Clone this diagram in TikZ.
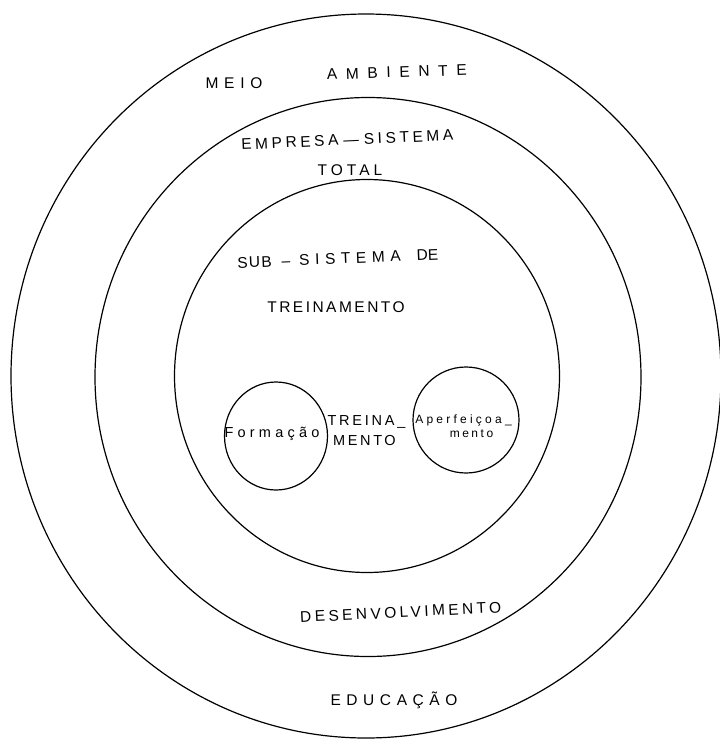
\documentclass[tikz,border=0pt]{standalone}
\usepackage{fontspec}
\setmainfont{Liberation Sans}
\usetikzlibrary{shapes.geometric}
\newcommand\lsp[1]{\addfontfeature{LetterSpace=#1}}
\tikzset{
  ring/.style={draw, line width=1.2pt, ellipse, inner sep=0pt},
  lbl/.style={inner sep=0pt, anchor=base, font=\fontsize{15.5}{15.5}\selectfont},
  lblm/.style={inner sep=0pt, anchor=base, font=\fontsize{14.5}{14.5}\selectfont},
  lbls/.style={inner sep=0pt, anchor=base, font=\fontsize{12}{12}\selectfont},
}
\begin{document}
\begin{tikzpicture}[x=1pt,y=-1pt]
\useasboundingbox (0,0) rectangle (720,740);
% rings
\node[ring, minimum width=710pt, minimum height=724pt] (meioamb) at (366,376) {};
\node[ring, minimum width=546pt, minimum height=559pt] (empresa) at (368,377) {};
\node[ring, minimum width=385pt, minimum height=393pt] (subsis) at (367,376) {};
\node[ring, minimum width=103pt, minimum height=108pt] (formacao) at (276,436) {};
\node[ring, minimum width=106pt, minimum height=106pt] (aperf) at (466,420) {};
% labels
\node[lbl] (tmeio) at (234,88) {\lsp{37}MEIO};
\node[lbl, rotate=2] (tamb) at (397,77.5) {\lsp{56}AMBIENTE};
\node[lbl, rotate=2.6] (temp) at (347.5,145) {\lsp{23}EMPRESA\hspace{5pt}—\hspace{5pt}SISTEMA};
\node[lbl] (ttotal) at (350,175) {\lsp{26}TOTAL};
\node[lbl, rotate=2.3] (tsub) at (338,264) {{\lsp{8}SUB}\hspace{10pt}–\hspace{9pt}{\lsp{36}SISTEMA}\hspace{16pt}DE};
\node[lbl] (ttrein) at (336,312) {\lsp{16}TREINAMENTO};
\node[lblm] (tform) at (272,437) {\lsp{29}Formação};
\node[lblm] (ttr1) at (366.5,425) {\lsp{19}TREINA\_};
\node[lblm] (ttr2) at (364.5,445) {\lsp{18}MENTO};
\node[lbls] (tap1) at (463.5,423) {\lsp{27}Aperfeiçoa\_};
\node[lbls] (tap2) at (471.5,437) {\lsp{21}mento};
\node[lbl, rotate=2.9] (tdes) at (401,617.5) {\lsp{22}DESENVOLVIMENTO};
\node[lbl] (tedu) at (394,705) {\lsp{36}EDUCAÇÃO};
\end{tikzpicture}
\end{document}
